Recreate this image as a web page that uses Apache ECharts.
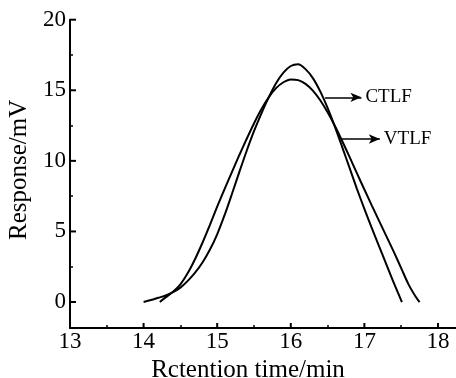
<!DOCTYPE html>
<html>
<head>
<meta charset="utf-8">
<script src="https://cdn.jsdelivr.net/npm/echarts@6/dist/echarts.min.js"></script>
<style>
html,body{margin:0;padding:0;background:#fff;}
#c{width:456px;height:378px;}
</style>
</head>
<body>
<div id="c"></div>
<script>
// ---- data ----
var ctlfX = [14.0,14.1,14.2,14.3,14.4,14.5,14.6,14.7,14.8,14.9,15.0,15.1,15.2,15.3,15.4,15.5,15.6,15.7,15.8,15.9,16.0,16.1,16.2,16.3,16.4,16.5,16.6,16.7,16.8,16.9,17.0,17.1,17.2,17.3,17.4,17.51];
var ctlfY = [0,0.14,0.3,0.46,0.7,1.02,1.5,2.08,2.8,3.7,4.8,6.15,7.65,9.2,10.7,12.1,13.35,14.5,15.5,16.25,16.72,16.84,16.5,15.86,14.92,13.75,12.41,10.96,9.48,8.0,6.6,5.25,3.95,2.65,1.35,0];
var vtlfX = [14.22,14.3,14.4,14.5,14.6,14.7,14.8,14.9,15.0,15.1,15.2,15.3,15.4,15.5,15.6,15.7,15.8,15.9,16.0,16.1,16.2,16.3,16.4,16.5,16.6,16.7,16.8,16.9,17.0,17.1,17.2,17.3,17.4,17.5,17.6,17.7,17.75];
var vtlfY = [0,0.33,0.72,1.25,2.05,3.05,4.2,5.45,6.75,8.0,9.2,10.4,11.55,12.65,13.65,14.5,15.15,15.57,15.77,15.72,15.45,14.97,14.29,13.44,12.47,11.39,10.26,9.11,7.97,6.85,5.75,4.65,3.55,2.4,1.25,0.35,0];
var xTickLabels = [13,14,15,16,17,18];
var xMajorTicks = [14,15,16,17,18];
var xMinorTicks = [13.5,14.5,15.5,16.5,17.5];
var yTickLabels = [0,5,10,15,20];
var yMinorTicks = [2.5,7.5,12.5,17.5];
var ctlfArrow = [[16.465,14.5],[16.96,14.5]];
var vtlfArrow = [[16.69,11.55],[17.21,11.55]];
var xName = 'Rctention time/min';
var yName = 'Response/mV';

function pairs(xs, ys){ var o=[]; for (var i=0;i<xs.length;i++) o.push([xs[i],ys[i]]); return o; }

var FONT = "'Liberation Serif','Times New Roman',serif";
var X_MIN = 13, X_MAX = 18.245, Y_MIN = -1.84, Y_MAX = 20;

function arrowLine(pts, text){
  return {
    silent: true,
    symbol: ['none','arrow'],
    symbolSize: [7,11],
    lineStyle: {color:'#000', width:1.6, type:'solid'},
    label: {show:true, position:'end', formatter:text, color:'#000', fontFamily:FONT, fontSize:19, distance:4},
    emphasis: {disabled:true},
    data: [[{coord:pts[0]},{coord:pts[1]}]]
  };
}

function tickAxis(kind, values, len, width){
  return {
    type:'value', min: kind==='x'?X_MIN:Y_MIN, max: kind==='x'?X_MAX:Y_MAX,
    position: kind==='x'?'bottom':'left',
    axisLine:{show:false, onZero:false},
    axisTick:{show:true, inside:true, length:len, customValues:values, lineStyle:{color:'#000', width:width}},
    axisLabel:{show:false},
    splitLine:{show:false}
  };
}

// major ticks drawn through the axis scales (custom series)
function majorTickSeries(kind, values, len){
  var data = values.map(function(v){ return kind==='x' ? [v, Y_MIN] : [X_MIN, v]; });
  return {
    type:'custom', xAxisIndex:0, yAxisIndex:0, silent:true, clip:false, z:5,
    data:data,
    renderItem:function(params, api){
      var p = api.coord([api.value(0), api.value(1)]);
      var shape = kind==='x'
        ? {x1:p[0], y1:p[1], x2:p[0], y2:p[1]-len}
        : {x1:p[0], y1:p[1], x2:p[0]+len, y2:p[1]};
      return {type:'line', shape:shape, style:{stroke:'#000', lineWidth:2}};
    }
  };
}

var chart = echarts.init(document.getElementById('c'), null, {renderer:'canvas'});
chart.setOption({
  animation: false,
  backgroundColor: '#fff',
  grid: {left:70, right:0, top:19.7, bottom:50, containLabel:false, outerBoundsMode:'none'},
  xAxis: [{
    type:'value', min:X_MIN, max:X_MAX,
    name: xName, nameLocation:'middle', nameGap:19,
    nameTextStyle:{fontFamily:FONT, fontSize:25, color:'#000', padding:[0,30,0,0]},
    axisLine:{show:true, onZero:false, lineStyle:{color:'#000', width:2}},
    axisTick:{show:false},
    axisLabel:{show:true, margin:2, customValues:xTickLabels, fontFamily:FONT, fontSize:23, color:'#000'},
    splitLine:{show:false}
  }, tickAxis('x', xMinorTicks, 3, 1.5)],
  yAxis: [{
    type:'value', min:Y_MIN, max:Y_MAX,
    name: yName, nameLocation:'middle', nameGap:38, nameRotate:90,
    nameTextStyle:{fontFamily:FONT, fontSize:25, color:'#000', padding:[0,0,0,8]},
    axisLine:{show:true, onZero:false, lineStyle:{color:'#000', width:2}},
    axisTick:{show:false},
    axisLabel:{show:true, margin:4, customValues:yTickLabels, fontFamily:FONT, fontSize:23, color:'#000'},
    splitLine:{show:false}
  }, tickAxis('y', yMinorTicks, 3, 1.5)],
  series: [{
    name:'CTLF', type:'line', xAxisIndex:0, yAxisIndex:0,
    data: pairs(ctlfX, ctlfY), smooth:0.3, showSymbol:false, symbol:'none',
    lineStyle:{color:'#000', width:2}, silent:true,
    markLine: arrowLine(ctlfArrow, 'CTLF')
  },{
    name:'VTLF', type:'line', xAxisIndex:0, yAxisIndex:0,
    data: pairs(vtlfX, vtlfY), smooth:0.3, showSymbol:false, symbol:'none',
    lineStyle:{color:'#000', width:2}, silent:true,
    markLine: arrowLine(vtlfArrow, 'VTLF')
  },
  majorTickSeries('x', xMajorTicks, 5),
  majorTickSeries('y', yTickLabels, 6)]
});
</script>
</body>
</html>
